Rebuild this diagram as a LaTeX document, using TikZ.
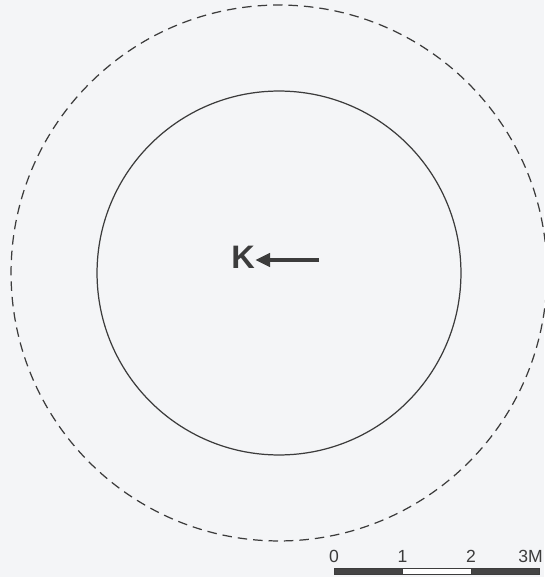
\documentclass[tikz,border=0pt]{standalone}
\usepackage{fontspec}
\setmainfont{Liberation Sans}
\usetikzlibrary{arrows.meta,positioning}
\definecolor{paper}{HTML}{F4F5F7}
\definecolor{ink}{HTML}{3C3C3C}
\definecolor{barfill}{HTML}{444444}

\begin{document}
\begin{tikzpicture}[x=0.02cm, y=-0.02cm, every node/.style={font=\fontsize{10}{12}\selectfont, text=ink, inner sep=0pt},
      ring/.style={draw=ink, line width=0.7pt},
      outer/.style={ring, dash pattern=on 5.4pt off 3.4pt},
      karr/.style={-{Triangle[length=8.5pt, width=7.5pt]}, draw=ink, line width=2.3pt},
      seg/.style={draw=ink, line width=0.4pt}]
    \useasboundingbox[fill=paper] (0,0) rectangle (544,577);
    \coordinate (ctr) at (279,273);
    \draw[outer] (ctr) circle[radius=5.36cm];
    \draw[ring] (ctr) circle[radius=3.64cm];
    \node[font=\fontsize{18.5}{20}\bfseries\selectfont] (K) at (243,257) {K};
    \coordinate (tail) at (319,260);
    \draw[karr] (tail) -- (K.east |- tail);
    % scale bar
    \foreach \i/\c in {0/barfill,1/white,2/barfill}
      \draw[seg, fill=\c] (334+\i*68.5,568) rectangle (334+\i*68.5+68.5,574);
    \node (s0) at (334,556) {0};
    \node (s1) at (402.5,556) {1};
    \node (s2) at (471,556) {2};
    \node[anchor=east] (s3) at (543,556) {3M};
  \end{tikzpicture}
\end{document}
